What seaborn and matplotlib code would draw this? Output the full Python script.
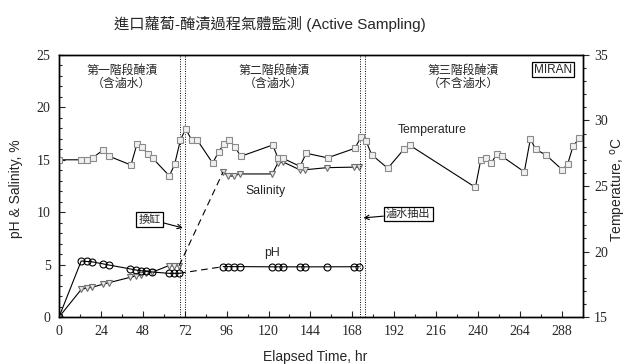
import matplotlib
matplotlib.use("Agg")
import matplotlib.pyplot as plt
import seaborn as sns
import pandas as pd
from matplotlib.ticker import MultipleLocator

# ---------------- data ----------------
temp_hr = [0, 12.4, 16.2, 19.3, 25.4, 28.9, 41.2, 44.6, 47.7, 50.7, 53.8, 63.2, 66.2,
           69.5, 72.5, 76, 79, 88, 91.4, 94.4, 97.5, 101, 104, 122.4, 125.5, 128.5,
           138, 141.6, 153.8, 169.5, 173, 176, 179, 188.3, 197.5, 201, 238.5, 241.5,
           244.6, 247.7, 250.7, 253.8, 266.5, 270, 273, 279, 288.3, 291.4, 294.4, 297.9]
temp_c = [27.0, 27.0, 26.95, 27.15, 27.77, 27.26, 26.6, 28.18, 27.96, 27.46, 27.1, 25.77,
          26.65, 28.49, 29.36, 28.5, 28.54, 26.75, 27.6, 28.2, 28.5, 27.96, 27.26, 28.13,
          27.1, 27.1, 26.5, 27.5, 27.15, 27.88, 28.75, 28.4, 27.4, 26.35, 27.8, 28.1,
          24.9, 26.95, 27.1, 26.75, 27.46, 27.26, 26.08, 28.6, 27.8, 27.36, 26.23, 26.7,
          28.03, 28.64]

# stage 1 (0-69 hr) and stage 2 (94-172 hr)
s1_hr = [0, 12.7, 15.8, 18.8, 25.3, 28.4, 40.8, 43.9, 47, 50, 53.3, 62.8, 65.7, 68.8]
s1_ph = [0, 5.35, 5.3, 5.27, 5.07, 4.97, 4.59, 4.49, 4.42, 4.36, 4.3, 4.17, 4.17, 4.17]
s1_sal = [0, 2.63, 2.76, 2.83, 3.14, 3.27, 3.79, 3.91, 3.98, 4.17, 4.27, 4.9, 4.9, 4.9]

s2_hr = [94, 97, 100.2, 103.4, 122.2, 125.2, 128.3, 137.8, 141, 153.5, 168.8, 172]
s2_ph = [4.81, 4.81, 4.81, 4.81, 4.79, 4.79, 4.79, 4.79, 4.79, 4.79, 4.8, 4.8]
s2_sal = [13.85, 13.45, 13.45, 13.65, 13.65, 14.65, 14.8, 14.05, 14.05, 14.25, 14.3, 14.3]

event_hr = [69.5, 72, 172.5, 175]
xticks = list(range(0, 289, 24))
stage_text = ["第一階段醃漬\n（含滷水）", "第二階段醃漬\n（含滷水）", "第三階段醃漬\n（不含滷水）"]
stage_x = [36, 123, 231.5]

# ---------------- style ----------------
sns.set_style("ticks")
plt.rcParams["font.family"] = ["Liberation Sans", "Noto Sans CJK TC", "DejaVu Sans"]
plt.rcParams["xtick.direction"] = "in"
plt.rcParams["ytick.direction"] = "in"

fig = plt.figure(figsize=(6.28, 3.64), dpi=100)
ax = fig.add_axes([0.094, 0.129, 0.834, 0.720])
ax2 = ax.twinx()

serif = ["Liberation Serif", "DejaVu Serif"]
cjk = ["Noto Sans CJK TC", "DejaVu Sans"]

# temperature on right axis
tdf = pd.DataFrame({"hr": temp_hr, "t": temp_c})
sns.lineplot(data=tdf, x="hr", y="t", ax=ax2, sort=False, estimator=None, color="black",
             lw=0.8, marker="s", markersize=4, markerfacecolor="#f0f0f0",
             markeredgecolor="#8a8a8a", markeredgewidth=0.8)

# pH & salinity on left axis
def seg(xs, ys, ls, marker, **kw):
    d = pd.DataFrame({"x": xs, "y": ys})
    sns.lineplot(data=d, x="x", y="y", ax=ax, sort=False, estimator=None, color="black",
                 lw=0.8, linestyle=ls, marker=marker, **kw)

tri = dict(markersize=4.5, markerfacecolor="#e6e6e6", markeredgecolor="#6e6e6e", markeredgewidth=0.8)
cir = dict(markersize=5, markerfacecolor="none", markeredgecolor="black", markeredgewidth=0.8)

seg(s1_hr, s1_sal, "-", "v", **tri)
seg(s2_hr, s2_sal, "-", "v", **tri)
seg([s1_hr[-1], s2_hr[0]], [s1_sal[-1], s2_sal[0]], (0, (6, 4)), None)
seg(s1_hr, s1_ph, "-", "o", **cir)
seg(s2_hr, s2_ph, "-", "o", **cir)
seg([s1_hr[-1], s2_hr[0]], [s1_ph[-1], s2_ph[0]], (0, (6, 4)), None)

for h in event_hr:
    ax.axvline(h, color="black", lw=0.7, ls=(0, (1, 1.5)))

# axes
ax.set_xlim(0, 300)
ax.set_ylim(0, 25)
ax2.set_ylim(15, 35)
ax.set_xticks(xticks)
ax.xaxis.set_minor_locator(MultipleLocator(12))
ax.yaxis.set_major_locator(MultipleLocator(5))
ax.yaxis.set_minor_locator(MultipleLocator(1))
ax2.yaxis.set_major_locator(MultipleLocator(5))
ax2.yaxis.set_minor_locator(MultipleLocator(1))
ax.tick_params(which="major", length=4, width=0.8, labelsize=10, pad=6)
ax.tick_params(which="minor", length=2.5, width=0.8)
ax.tick_params(axis="y", right=False)
ax.tick_params(axis="x", top=False)
ax2.tick_params(axis="y", which="both", direction="out", width=0.8)
ax2.tick_params(axis="y", which="major", length=4, labelsize=10, pad=4)
ax2.tick_params(axis="y", which="minor", length=2.5)
for lab in ax.get_xticklabels() + ax.get_yticklabels() + ax2.get_yticklabels():
    lab.set_family(serif)
for a in (ax, ax2):
    for s in a.spines.values():
        s.set_visible(True)
        s.set_linewidth(1.0)
        s.set_color("black")

ax.set_xlabel("Elapsed Time, hr", fontsize=10)
ax.xaxis.set_label_coords(0.49, -0.125)
ax.set_ylabel("pH & Salinity, %", fontsize=10)
ax.yaxis.set_label_coords(-0.068, 0.49)
ax2.set_ylabel("Temperature, $^{\\mathrm{o}}$C", fontsize=10, rotation=90)
ax2.yaxis.set_label_coords(1.05, 0.485)

fig.suptitle("進口蘿蔔-醃漬過程氣體監測 (Active Sampling)", x=0.43, y=0.955, fontsize=11)

# text labels
for t, x in zip(stage_text, stage_x):
    ax.text(x, 22.9, t, ha="center", va="center", fontsize=8.6, family=cjk, linespacing=1.05)
ax.text(214, 17.88, "Temperature", ha="center", va="center", fontsize=8.8)
ax.text(118, 12.0, "Salinity", ha="center", va="center", fontsize=8.8)
ax.text(122, 6.1, "pH", ha="center", va="center", fontsize=8.8)
ax.text(283, 23.6, "MIRAN", ha="center", va="center", fontsize=8.5,
        bbox=dict(boxstyle="square,pad=0.15", fc="white", ec="black", lw=0.9))

ax.annotate("換缸", xy=(70.9, 8.5), xytext=(51.7, 9.33), ha="center", va="center",
            fontsize=8, family=cjk,
            bbox=dict(boxstyle="square,pad=0.2", fc="white", ec="black", lw=0.9),
            arrowprops=dict(arrowstyle="->", color="black", lw=0.8, shrinkA=0, shrinkB=0))
ax.annotate("滷水抽出", xy=(174.4, 9.46), xytext=(200, 9.83), ha="center", va="center",
            fontsize=8, family=cjk,
            bbox=dict(boxstyle="square,pad=0.2", fc="white", ec="black", lw=0.9),
            arrowprops=dict(arrowstyle="->", color="black", lw=0.8, shrinkA=0, shrinkB=0))

fig.savefig("out.png", dpi=100)
